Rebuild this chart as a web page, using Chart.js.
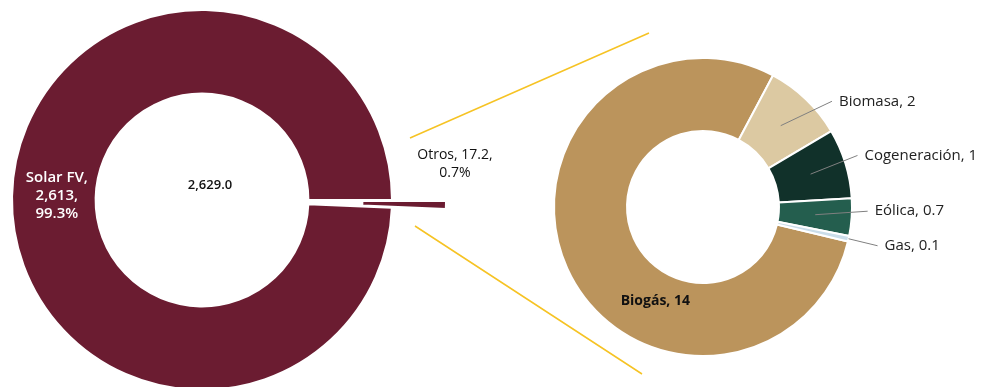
<!DOCTYPE html>
<html>
<head>
<meta charset="utf-8">
<script src="https://cdn.jsdelivr.net/npm/chart.js@4.4.0/dist/chart.umd.min.js"></script>
<style>
    html, body { margin: 0; padding: 0; background: #fff; overflow: hidden; }
    body { width: 983px; height: 387px; position: relative; }
    canvas { position: absolute; top: 0; left: 0; }
</style>
</head>
<body>
<canvas id="chart_main" width="520" height="400"></canvas>
<canvas id="chart_otros" width="983" height="387"></canvas>
<script>
// capacidad total (MW)
const mainLabels = ["Solar FV", "Otros"];
const mainValues = [2613, 17.2];
const mainTotal = 2629.0;

// desglose de "Otros"
const otrosLabels = ["Biogás", "Biomasa", "Cogeneración", "Eólica", "Gas"];
const otrosValues = [13.6, 1.5, 1.3, 0.7, 0.1];

const otrosColors = ["#BB945C", "#DCC9A2", "#11312A", "#245E4E", "#CADDE9"];
const maroon = "#6B1C31";
const pullOut = [0, 54]; // px the slice is pulled away from the ring

function fmt(v) {
    return v.toLocaleString("en-US", { maximumFractionDigits: 1 });
}

function polar(arc, r, a) {
    return { x: arc.x + Math.cos(a) * r, y: arc.y + Math.sin(a) * r };
}

// chart.js "offset" squeezes thin slices to nothing, so move the arc ourselves
const pullPlugin = {
    id: "pull",
    beforeDatasetDraw(chart, args) {
        const ctx = chart.ctx;
        args.meta.data.forEach((arc, i) => {
            const mid = (arc.startAngle + arc.endAngle) / 2;
            ctx.save();
            ctx.translate(Math.cos(mid) * pullOut[i], Math.sin(mid) * pullOut[i]);
            arc.draw(ctx, chart.chartArea);
            ctx.restore();
        });
        return false;
    }
};

const mainLabelsPlugin = {
    id: "mainLabels",
    afterDatasetsDraw(chart) {
        const ctx = chart.ctx;
        const arcs = chart.getDatasetMeta(0).data;
        const sum = mainValues.reduce((a, b) => a + b, 0);
        const pct = mainValues.map(v => (v / sum * 100).toFixed(1) + "%");
        ctx.save();
        ctx.textAlign = "center";
        ctx.textBaseline = "middle";

        // Solar FV, inside the ring
        const solar = arcs[0];
        const sMid = (solar.startAngle + solar.endAngle) / 2;
        const sp = polar(solar, (solar.innerRadius + solar.outerRadius) / 2, sMid);
        ctx.fillStyle = "#fff";
        ctx.font = "600 15px 'Open Sans'";
        [mainLabels[0] + ",", fmt(mainValues[0]) + ",", pct[0]].forEach((t, i) => {
            ctx.fillText(t, sp.x + 3, sp.y - 19 + i * 18);
        });

        // total in the hole
        ctx.fillStyle = "#111";
        ctx.font = "600 13px 'Open Sans'";
        ctx.fillText(mainTotal.toLocaleString("en-US", { minimumFractionDigits: 1 }), solar.x + 8, solar.y - 15);

        // Otros, next to the pulled out slice
        const otros = arcs[1];
        const oMid = (otros.startAngle + otros.endAngle) / 2;
        const op = polar(otros, otros.outerRadius + pullOut[1], oMid);
        ctx.font = "14px 'Open Sans'";
        ctx.fillText(mainLabels[1] + ", " + fmt(mainValues[1]) + ",", op.x + 9, op.y - 50);
        ctx.fillText(pct[1], op.x + 9, op.y - 32);
        ctx.restore();
    }
};

const otrosLabelsPlugin = {
    id: "otrosLabels",
    afterDatasetsDraw(chart) {
        const ctx = chart.ctx;
        const arcs = chart.getDatasetMeta(0).data;
        const nudge = [null, [26, 2], [12, -8], [16, -6], [29, 7]];
        ctx.save();

        // yellow zoom lines from the main donut
        const c = arcs[0];
        ctx.strokeStyle = "#F6C324";
        ctx.lineWidth = 1.5;
        ctx.beginPath();
        ctx.moveTo(c.x - 293, c.y - 69);
        ctx.lineTo(c.x - 54, c.y - 174);
        ctx.moveTo(c.x - 288, c.y + 19);
        ctx.lineTo(c.x - 61, c.y + 167);
        ctx.stroke();

        // small slices: leader line + label on the right
        ctx.textAlign = "left";
        ctx.textBaseline = "middle";
        ctx.font = "15px 'Open Sans'";
        for (let i = 1; i < arcs.length; i++) {
            const arc = arcs[i];
            const mid = (arc.startAngle + arc.endAngle) / 2;
            const small = arc.endAngle - arc.startAngle < 0.1;
            const start = polar(arc, small ? arc.outerRadius : (arc.innerRadius + arc.outerRadius) / 2, mid);
            const edge = polar(arc, arc.outerRadius, mid);
            const end = { x: edge.x + nudge[i][0], y: edge.y + nudge[i][1] };
            ctx.strokeStyle = "#808080";
            ctx.lineWidth = 1;
            ctx.beginPath();
            ctx.moveTo(start.x, start.y);
            ctx.lineTo(end.x, end.y);
            ctx.stroke();
            ctx.fillStyle = "#222";
            ctx.fillText(otrosLabels[i] + ", " + fmt(otrosValues[i] >= 1 ? Math.round(otrosValues[i]) : otrosValues[i]), end.x + 7, end.y);
        }

        // Biogás, inside its slice
        const bio = arcs[0];
        const bp = polar(bio, 105, (207 - 90) * Math.PI / 180);
        ctx.textAlign = "center";
        ctx.fillStyle = "#111";
        ctx.font = "bold 14px 'Open Sans'";
        ctx.fillText(otrosLabels[0] + ", " + Math.round(otrosValues[0]), bp.x, bp.y);
        ctx.restore();
    }
};

const chart_main = document.getElementById("chart_main");
const chart_main1 = new Chart(chart_main, {
    type: "doughnut",
    data: {
        labels: mainLabels,
        datasets: [{
            data: mainValues,
            backgroundColor: [maroon, maroon],
            borderColor: "#fff",
            borderWidth: 2,
        }]
    },
    options: {
        responsive: false,
        animation: false,
        radius: 190,
        cutout: "56%",
        rotation: 92.35,
        layout: { padding: { left: 0, top: 0, right: 116, bottom: 0 } },
        plugins: { legend: { display: false }, tooltip: { enabled: false } },
    },
    plugins: [pullPlugin, mainLabelsPlugin],
});

const chart_otros = document.getElementById("chart_otros");
const chart_otros1 = new Chart(chart_otros, {
    type: "doughnut",
    data: {
        labels: otrosLabels,
        datasets: [{
            data: otrosValues,
            backgroundColor: otrosColors,
            borderColor: "#fff",
            borderWidth: 2,
        }]
    },
    options: {
        responsive: false,
        animation: false,
        radius: 149,
        cutout: "51%",
        rotation: 103.35,
        layout: { padding: { left: 423, top: 27, right: 0, bottom: 0 } },
        plugins: { legend: { display: false }, tooltip: { enabled: false } },
    },
    plugins: [otrosLabelsPlugin],
});
</script>
</body>
</html>
